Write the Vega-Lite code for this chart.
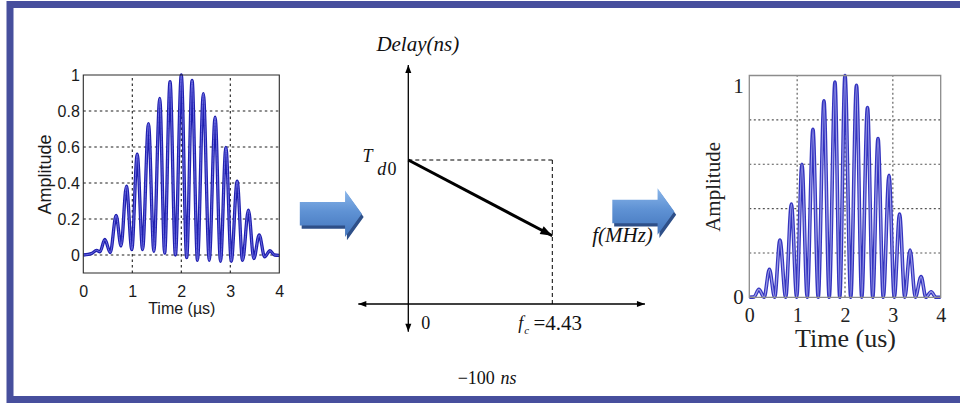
{
  "$schema": "https://vega.github.io/schema/vega-lite/v6.json",
  "width": 950,
  "height": 395,
  "autosize": {"type": "none"},
  "padding": {"left": 10, "top": 4.5, "right": 0, "bottom": 4.5},
  "background": "white",
  "config": {
    "view": {"stroke": "#474f9d", "strokeWidth": 7, "strokeDash": [950, 395, 1345, 0], "strokeCap": "square", "fill": "white"}
  },
  "datasets": {
    "inputPulse": [
      {"t": 0, "amp": 0}, {"t": 0.1, "amp": 0.003}, {"t": 0.18, "amp": 0.01}, {"t": 0.27, "amp": 0.026},
      {"t": 0.34, "amp": 0.018}, {"t": 0.44, "amp": 0.086}, {"t": 0.55, "amp": 0.013}, {"t": 0.67, "amp": 0.22},
      {"t": 0.77, "amp": 0.05}, {"t": 0.88, "amp": 0.383}, {"t": 0.99, "amp": 0.03}, {"t": 1.1, "amp": 0.56},
      {"t": 1.21, "amp": 0.03}, {"t": 1.33, "amp": 0.73}, {"t": 1.44, "amp": 0.02}, {"t": 1.56, "amp": 0.87},
      {"t": 1.66, "amp": 0.01}, {"t": 1.77, "amp": 0.963}, {"t": 1.88, "amp": 0}, {"t": 2.0, "amp": 1.0},
      {"t": 2.11, "amp": -0.015}, {"t": 2.22, "amp": 0.97}, {"t": 2.33, "amp": -0.03}, {"t": 2.45, "amp": 0.897},
      {"t": 2.57, "amp": -0.03}, {"t": 2.69, "amp": 0.766}, {"t": 2.8, "amp": -0.035}, {"t": 2.91, "amp": 0.598},
      {"t": 3.02, "amp": -0.035}, {"t": 3.14, "amp": 0.41}, {"t": 3.25, "amp": -0.03}, {"t": 3.37, "amp": 0.249},
      {"t": 3.48, "amp": -0.02}, {"t": 3.59, "amp": 0.112}, {"t": 3.7, "amp": -0.01}, {"t": 3.81, "amp": 0.024},
      {"t": 3.9, "amp": 0}, {"t": 4.0, "amp": -0.002}
    ],
    "compressedPulse": [
      {"t": 0, "amp": 0}, {"t": 0.1, "amp": 0.002}, {"t": 0.2, "amp": 0.036}, {"t": 0.31, "amp": 0},
      {"t": 0.42, "amp": 0.126}, {"t": 0.53, "amp": 0}, {"t": 0.64, "amp": 0.258}, {"t": 0.76, "amp": 0},
      {"t": 0.88, "amp": 0.42}, {"t": 0.99, "amp": 0}, {"t": 1.1, "amp": 0.6}, {"t": 1.21, "amp": 0},
      {"t": 1.33, "amp": 0.757}, {"t": 1.44, "amp": 0}, {"t": 1.56, "amp": 0.886}, {"t": 1.67, "amp": 0},
      {"t": 1.79, "amp": 0.97}, {"t": 1.89, "amp": 0}, {"t": 2.0, "amp": 1.0}, {"t": 2.12, "amp": 0},
      {"t": 2.24, "amp": 0.956}, {"t": 2.35, "amp": 0}, {"t": 2.47, "amp": 0.856}, {"t": 2.58, "amp": 0},
      {"t": 2.69, "amp": 0.716}, {"t": 2.8, "amp": 0}, {"t": 2.92, "amp": 0.55}, {"t": 3.03, "amp": 0},
      {"t": 3.14, "amp": 0.375}, {"t": 3.25, "amp": 0}, {"t": 3.36, "amp": 0.213}, {"t": 3.47, "amp": 0},
      {"t": 3.59, "amp": 0.093}, {"t": 3.69, "amp": 0}, {"t": 3.8, "amp": 0.025}, {"t": 3.9, "amp": 0},
      {"t": 4.0, "amp": 0}
    ],
    "timeGrid": [{"t": 1}, {"t": 2}, {"t": 3}],
    "inputAmpGrid": [{"amp": 0}, {"amp": 0.2}, {"amp": 0.4}, {"amp": 0.6}, {"amp": 0.8}],
    "outputAmpGrid": [{"amp": 0.2}, {"amp": 0.4}, {"amp": 0.6}, {"amp": 0.8}],
    "diagramAxes": [
      {"f": -1.538, "f2": 7.28, "delay": 0, "delay2": 0},
      {"f": 0, "f2": 0, "delay": -36.5, "delay2": 315.3}
    ],
    "axisEnds": [
      {"f": 7.28, "delay": 0, "end": "right"},
      {"f": -1.538, "delay": 0, "end": "left"},
      {"f": 0, "delay": 315.3, "end": "up"},
      {"f": 0, "delay": -36.5, "end": "down"}
    ],
    "guides": [
      {"f": 0, "f2": 4.43, "delay": 190, "delay2": 190},
      {"f": 4.43, "f2": 4.43, "delay": 190, "delay2": 0}
    ],
    "delaySlope": [{"f": 0, "f2": 4.43, "delay": 190, "delay2": 90}],
    "slopeEnd": [{"f": 4.43, "delay": 90}],
    "flow": [{"f": -2.384, "delay": 119}, {"f": 7.23, "delay": 122}],
    "italicLarge": [
      {"label": "Delay(ns)", "f": 0.292, "delay": 341.7},
      {"label": "f(MHz)", "f": 6.59, "delay": 90}
    ],
    "italicMid": [
      {"label": "T", "f": -1.255, "delay": 193.3},
      {"label": "d", "f": -0.818, "delay": 176.8},
      {"label": "f", "f": 3.458, "delay": -26.4},
      {"label": "ns", "f": 3.08, "delay": -99.2}
    ],
    "uprightMid": [
      {"label": "0", "f": -0.5, "delay": 176.8},
      {"label": "0", "f": 0.54, "delay": -26.6},
      {"label": "−100", "f": 2.09, "delay": -99.2}
    ],
    "fcValue": [{"label": "=4.43", "f": 4.6, "delay": -26.6}],
    "subscripts": [{"label": "c", "f": 3.64, "delay": -35.6}]
  },
  "layer": [
    {
      "data": {"name": "timeGrid"},
      "mark": {"type": "rule", "color": "#1e1e1e", "strokeWidth": 1.1, "strokeDash": [2.5, 3]},
      "encoding": {
        "x": {"field": "t", "type": "quantitative", "scale": {"domain": [0, 4], "range": [73.3, 269.3], "nice": false, "zero": false}, "axis": null},
        "y": {"datum": -0.1, "type": "quantitative", "scale": {"domain": [-0.1, 1], "range": [268.5, 70.5], "nice": false, "zero": false}, "axis": null},
        "y2": {"datum": 1}
      }
    },
    {
      "data": {"name": "inputAmpGrid"},
      "mark": {"type": "rule", "color": "#1e1e1e", "strokeWidth": 1.1, "strokeDash": [2.5, 3]},
      "encoding": {
        "x": {"datum": 0, "type": "quantitative", "scale": {"domain": [0, 4], "range": [73.3, 269.3], "nice": false, "zero": false}, "axis": null},
        "x2": {"datum": 4},
        "y": {"field": "amp", "type": "quantitative", "scale": {"domain": [-0.1, 1], "range": [268.5, 70.5], "nice": false, "zero": false}, "axis": null}
      }
    },
    {
      "data": {"name": "inputPulse"},
      "mark": {"type": "line", "interpolate": "monotone", "color": "#1f1fae", "strokeWidth": 3.3},
      "encoding": {
        "x": {
          "field": "t", "type": "quantitative",
          "scale": {"domain": [0, 4], "range": [73.3, 269.3], "nice": false, "zero": false},
          "axis": {
            "orient": "bottom", "offset": -126.5, "domain": false, "ticks": false, "grid": false,
            "values": [0, 1, 2, 3, 4], "format": "d", "labelFlush": false, "labelOverlap": false,
            "labelFont": "Liberation Sans", "labelFontSize": 16, "labelColor": "#1a1a1a", "labelPadding": 10,
            "title": "Time (µs)", "titleFont": "Liberation Sans", "titleFontSize": 16, "titleFontWeight": "normal",
            "titleColor": "#1a1a1a", "titlePadding": 1
          }
        },
        "y": {
          "field": "amp", "type": "quantitative",
          "scale": {"domain": [-0.1, 1], "range": [268.5, 70.5], "nice": false, "zero": false},
          "axis": {
            "orient": "left", "offset": -73.3, "domain": false, "ticks": false, "grid": false,
            "values": [0, 0.2, 0.4, 0.6, 0.8, 1], "format": ".1~f", "labelFlush": false, "labelOverlap": false,
            "labelFont": "Liberation Sans", "labelFontSize": 16, "labelColor": "#1a1a1a", "labelPadding": 4,
            "title": "Amplitude", "titleFont": "Liberation Sans", "titleFontSize": 18, "titleFontWeight": "normal",
            "titleColor": "#1a1a1a", "titlePadding": 3
          }
        }
      }
    },
    {
      "data": {"name": "inputPulse"},
      "mark": {"type": "line", "interpolate": "monotone", "color": "#6b6be0", "strokeWidth": 1},
      "encoding": {
        "x": {"field": "t", "type": "quantitative", "scale": {"domain": [0, 4], "range": [73.3, 269.3], "nice": false, "zero": false}, "axis": null},
        "y": {"field": "amp", "type": "quantitative", "scale": {"domain": [-0.1, 1], "range": [268.5, 70.5], "nice": false, "zero": false}, "axis": null}
      }
    },
    {
      "data": {"values": [{}]},
      "mark": {"type": "rect", "filled": false, "stroke": "#2a2a2a", "strokeWidth": 1.1},
      "encoding": {
        "x": {"datum": 0, "type": "quantitative", "scale": {"domain": [0, 4], "range": [73.3, 269.3], "nice": false, "zero": false}, "axis": null},
        "x2": {"datum": 4},
        "y": {"datum": -0.1, "type": "quantitative", "scale": {"domain": [-0.1, 1], "range": [268.5, 70.5], "nice": false, "zero": false}, "axis": null},
        "y2": {"datum": 1}
      }
    },
    {
      "data": {"name": "diagramAxes"},
      "mark": {"type": "rule", "color": "#000000", "strokeWidth": 1.3},
      "encoding": {
        "x": {"field": "f", "type": "quantitative", "scale": {"domain": [0, 4.43], "range": [398.3, 542.3], "nice": false, "zero": false}, "axis": null},
        "x2": {"field": "f2"},
        "y": {"field": "delay", "type": "quantitative", "scale": {"domain": [0, 190], "range": [299.5, 155.5], "nice": false, "zero": false}, "axis": null},
        "y2": {"field": "delay2"}
      }
    },
    {
      "data": {"name": "guides"},
      "mark": {"type": "rule", "color": "#000000", "strokeWidth": 1, "strokeDash": [4, 3]},
      "encoding": {
        "x": {"field": "f", "type": "quantitative", "scale": {"domain": [0, 4.43], "range": [398.3, 542.3], "nice": false, "zero": false}, "axis": null},
        "x2": {"field": "f2"},
        "y": {"field": "delay", "type": "quantitative", "scale": {"domain": [0, 190], "range": [299.5, 155.5], "nice": false, "zero": false}, "axis": null},
        "y2": {"field": "delay2"}
      }
    },
    {
      "data": {"name": "delaySlope"},
      "mark": {"type": "rule", "color": "#000000", "strokeWidth": 3, "strokeCap": "butt"},
      "encoding": {
        "x": {"field": "f", "type": "quantitative", "scale": {"domain": [0, 4.43], "range": [398.3, 542.3], "nice": false, "zero": false}, "axis": null},
        "x2": {"field": "f2"},
        "y": {"field": "delay", "type": "quantitative", "scale": {"domain": [0, 190], "range": [299.5, 155.5], "nice": false, "zero": false}, "axis": null},
        "y2": {"field": "delay2"}
      }
    },
    {
      "data": {"name": "axisEnds"},
      "mark": {"type": "point", "filled": true, "color": "#000000", "opacity": 1, "size": 256},
      "encoding": {
        "x": {"field": "f", "type": "quantitative", "scale": {"domain": [0, 4.43], "range": [398.3, 542.3], "nice": false, "zero": false}, "axis": null},
        "y": {"field": "delay", "type": "quantitative", "scale": {"domain": [0, 190], "range": [299.5, 155.5], "nice": false, "zero": false}, "axis": null},
        "shape": {
          "field": "end", "type": "nominal", "legend": null,
          "scale": {
            "domain": ["right", "left", "up", "down"],
            "range": ["M0,0L-1,-0.38L-1,0.38Z", "M0,0L1,-0.38L1,0.38Z", "M0,0L-0.38,1L0.38,1Z", "M0,0L-0.38,-1L0.38,-1Z"]
          }
        }
      }
    },
    {
      "data": {"name": "slopeEnd"},
      "mark": {"type": "point", "filled": true, "color": "#000000", "opacity": 1, "size": 576, "shape": "M0,0L-1,-0.36L-1,0.36Z", "angle": 27.8},
      "encoding": {
        "x": {"field": "f", "type": "quantitative", "scale": {"domain": [0, 4.43], "range": [398.3, 542.3], "nice": false, "zero": false}, "axis": null},
        "y": {"field": "delay", "type": "quantitative", "scale": {"domain": [0, 190], "range": [299.5, 155.5], "nice": false, "zero": false}, "axis": null}
      }
    },
    {
      "data": {"name": "flow"},
      "mark": {"type": "point", "filled": true, "color": "#2e4f88", "opacity": 1, "size": 3844, "shape": "M-0.94,-0.28L0.52,-0.28L0.52,-0.65L1.06,0.1L0.52,0.85L0.52,0.48L-0.94,0.48Z"},
      "encoding": {
        "x": {"field": "f", "type": "quantitative", "scale": {"domain": [0, 4.43], "range": [398.3, 542.3], "nice": false, "zero": false}, "axis": null},
        "y": {"field": "delay", "type": "quantitative", "scale": {"domain": [0, 190], "range": [299.5, 155.5], "nice": false, "zero": false}, "axis": null}
      }
    },
    {
      "data": {"name": "flow"},
      "mark": {
        "type": "point", "filled": true, "opacity": 1, "size": 3844, "strokeWidth": 0,
        "shape": "M-1,-0.38L0.46,-0.38L0.46,-0.75L1,0L0.46,0.75L0.46,0.38L-1,0.38Z",
        "fill": {"gradient": "linear", "x1": 0, "y1": 0, "x2": 0, "y2": 1, "stops": [
          {"offset": 0, "color": "#8ab6ea"}, {"offset": 0.45, "color": "#5f92d4"}, {"offset": 1, "color": "#4274bb"}
        ]}
      },
      "encoding": {
        "x": {"field": "f", "type": "quantitative", "scale": {"domain": [0, 4.43], "range": [398.3, 542.3], "nice": false, "zero": false}, "axis": null},
        "y": {"field": "delay", "type": "quantitative", "scale": {"domain": [0, 190], "range": [299.5, 155.5], "nice": false, "zero": false}, "axis": null}
      }
    },
    {
      "data": {"name": "italicLarge"},
      "mark": {"type": "text", "font": "Liberation Serif", "fontStyle": "italic", "fontSize": 21, "align": "center", "baseline": "middle", "color": "#111111"},
      "encoding": {
        "x": {"field": "f", "type": "quantitative", "scale": {"domain": [0, 4.43], "range": [398.3, 542.3], "nice": false, "zero": false}, "axis": null},
        "y": {"field": "delay", "type": "quantitative", "scale": {"domain": [0, 190], "range": [299.5, 155.5], "nice": false, "zero": false}, "axis": null},
        "text": {"field": "label"}
      }
    },
    {
      "data": {"name": "italicMid"},
      "mark": {"type": "text", "font": "Liberation Serif", "fontStyle": "italic", "fontSize": 18, "align": "center", "baseline": "middle", "color": "#111111"},
      "encoding": {
        "x": {"field": "f", "type": "quantitative", "scale": {"domain": [0, 4.43], "range": [398.3, 542.3], "nice": false, "zero": false}, "axis": null},
        "y": {"field": "delay", "type": "quantitative", "scale": {"domain": [0, 190], "range": [299.5, 155.5], "nice": false, "zero": false}, "axis": null},
        "text": {"field": "label"}
      }
    },
    {
      "data": {"name": "uprightMid"},
      "mark": {"type": "text", "font": "Liberation Serif", "fontSize": 18, "align": "center", "baseline": "middle", "color": "#111111"},
      "encoding": {
        "x": {"field": "f", "type": "quantitative", "scale": {"domain": [0, 4.43], "range": [398.3, 542.3], "nice": false, "zero": false}, "axis": null},
        "y": {"field": "delay", "type": "quantitative", "scale": {"domain": [0, 190], "range": [299.5, 155.5], "nice": false, "zero": false}, "axis": null},
        "text": {"field": "label"}
      }
    },
    {
      "data": {"name": "fcValue"},
      "mark": {"type": "text", "font": "Liberation Serif", "fontSize": 21, "align": "center", "baseline": "middle", "color": "#111111"},
      "encoding": {
        "x": {"field": "f", "type": "quantitative", "scale": {"domain": [0, 4.43], "range": [398.3, 542.3], "nice": false, "zero": false}, "axis": null},
        "y": {"field": "delay", "type": "quantitative", "scale": {"domain": [0, 190], "range": [299.5, 155.5], "nice": false, "zero": false}, "axis": null},
        "text": {"field": "label"}
      }
    },
    {
      "data": {"name": "subscripts"},
      "mark": {"type": "text", "font": "Liberation Serif", "fontStyle": "italic", "fontSize": 11, "align": "center", "baseline": "middle", "color": "#111111"},
      "encoding": {
        "x": {"field": "f", "type": "quantitative", "scale": {"domain": [0, 4.43], "range": [398.3, 542.3], "nice": false, "zero": false}, "axis": null},
        "y": {"field": "delay", "type": "quantitative", "scale": {"domain": [0, 190], "range": [299.5, 155.5], "nice": false, "zero": false}, "axis": null},
        "text": {"field": "label"}
      }
    },
    {
      "data": {"name": "timeGrid"},
      "mark": {"type": "rule", "color": "#555555", "strokeWidth": 1.1, "strokeDash": [2, 2.5]},
      "encoding": {
        "x": {"field": "t", "type": "quantitative", "scale": {"domain": [0, 4], "range": [739.3, 930.7], "nice": false, "zero": false}, "axis": null},
        "y": {"datum": 0, "type": "quantitative", "scale": {"domain": [0, 1], "range": [292.8, 71], "nice": false, "zero": false}, "axis": null},
        "y2": {"datum": 1}
      }
    },
    {
      "data": {"name": "outputAmpGrid"},
      "mark": {"type": "rule", "color": "#555555", "strokeWidth": 1.1, "strokeDash": [2, 2.5]},
      "encoding": {
        "x": {"datum": 0, "type": "quantitative", "scale": {"domain": [0, 4], "range": [739.3, 930.7], "nice": false, "zero": false}, "axis": null},
        "x2": {"datum": 4},
        "y": {"field": "amp", "type": "quantitative", "scale": {"domain": [0, 1], "range": [292.8, 71], "nice": false, "zero": false}, "axis": null}
      }
    },
    {
      "data": {"name": "compressedPulse"},
      "mark": {"type": "line", "interpolate": "monotone", "color": "#3434bf", "strokeWidth": 3.6},
      "encoding": {
        "x": {
          "field": "t", "type": "quantitative",
          "scale": {"domain": [0, 4], "range": [739.3, 930.7], "nice": false, "zero": false},
          "axis": {
            "orient": "bottom", "offset": -102.2, "domain": false, "ticks": false, "grid": false,
            "values": [0, 1, 2, 3, 4], "format": "d", "labelFlush": false, "labelOverlap": false,
            "labelFont": "Liberation Serif", "labelFontSize": 20, "labelColor": "#222222", "labelPadding": 8,
            "title": "Time (us)", "titleFont": "Liberation Serif", "titleFontSize": 26, "titleFontWeight": "normal",
            "titleColor": "#222222", "titlePadding": 0.5
          }
        },
        "y": {
          "field": "amp", "type": "quantitative",
          "scale": {"domain": [0, 1], "range": [292.8, 71], "nice": false, "zero": false},
          "axis": {
            "orient": "left", "offset": -739.3, "domain": false, "ticks": false, "grid": false,
            "values": [0, 1], "format": "d", "labelFlush": false, "labelOverlap": false,
            "labelBaseline": {"condition": {"test": "datum.value == 1", "value": "top"}, "value": "middle"},
            "labelFont": "Liberation Serif", "labelFontSize": 21, "labelColor": "#222222", "labelPadding": 6,
            "title": "Amplitude", "titleFont": "Liberation Serif", "titleFontSize": 21, "titleFontWeight": "normal",
            "titleColor": "#222222", "titlePadding": 9
          }
        }
      }
    },
    {
      "data": {"name": "compressedPulse"},
      "mark": {"type": "line", "interpolate": "monotone", "color": "#9d9de8", "strokeWidth": 1.3},
      "encoding": {
        "x": {"field": "t", "type": "quantitative", "scale": {"domain": [0, 4], "range": [739.3, 930.7], "nice": false, "zero": false}, "axis": null},
        "y": {"field": "amp", "type": "quantitative", "scale": {"domain": [0, 1], "range": [292.8, 71], "nice": false, "zero": false}, "axis": null}
      }
    },
    {
      "data": {"values": [{}]},
      "mark": {"type": "rect", "filled": false, "stroke": "#8c8c8c", "strokeWidth": 1.3},
      "encoding": {
        "x": {"datum": 0, "type": "quantitative", "scale": {"domain": [0, 4], "range": [739.3, 930.7], "nice": false, "zero": false}, "axis": null},
        "x2": {"datum": 4},
        "y": {"datum": 0, "type": "quantitative", "scale": {"domain": [0, 1], "range": [292.8, 71], "nice": false, "zero": false}, "axis": null},
        "y2": {"datum": 1}
      }
    }
  ],
  "resolve": {
    "scale": {"x": "independent", "y": "independent"},
    "axis": {"x": "independent", "y": "independent"}
  }
}
